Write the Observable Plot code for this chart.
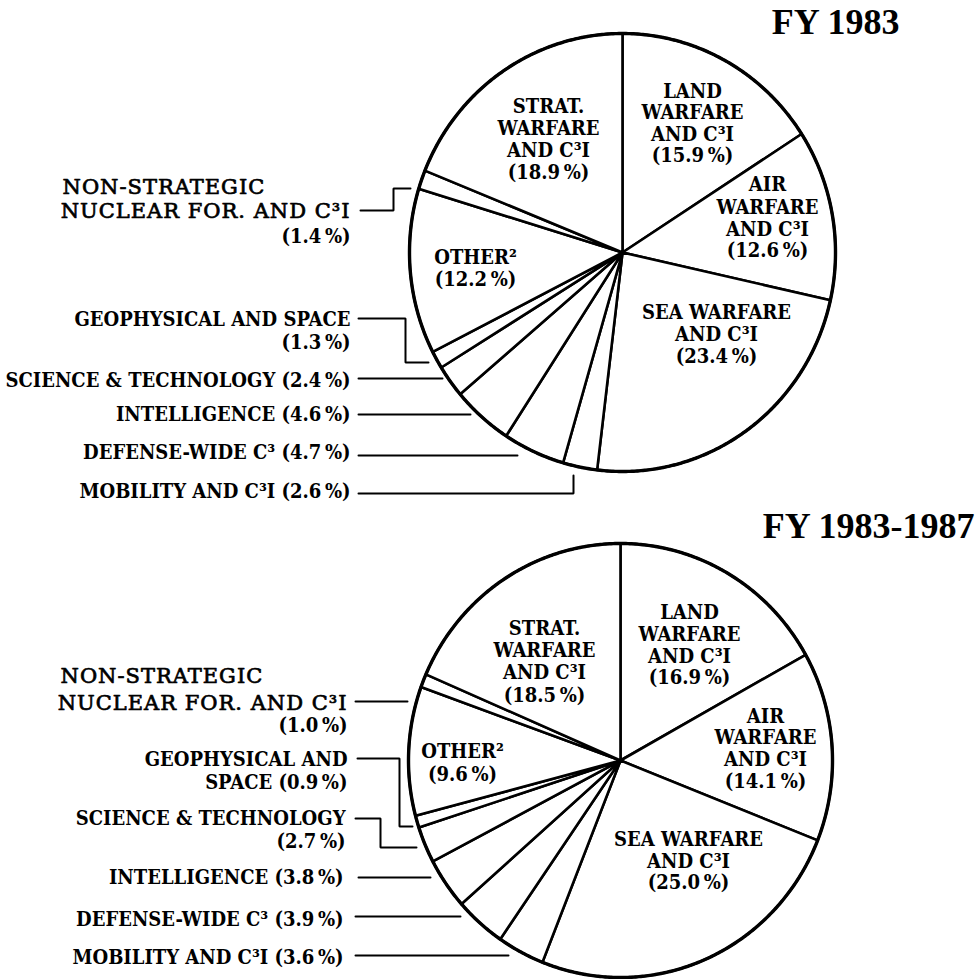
<!DOCTYPE html>
<html>
<head>
<meta charset="utf-8">
<script src="https://cdn.jsdelivr.net/npm/d3@7"></script>
<script src="https://cdn.jsdelivr.net/npm/@observablehq/plot@0.6"></script>
<style>
  html, body { margin: 0; padding: 0; background: #fff; }
  #chart svg { display: block; }
  g[font-family="DejaVu Serif"] { letter-spacing: 1px; }
</style>
</head>
<body>
<div id="chart"></div>
<script>
// ---------------- data ----------------
const categories = [
  "LAND WARFARE AND C³I", "AIR WARFARE AND C³I", "SEA WARFARE AND C³I",
  "MOBILITY AND C³I", "DEFENSE-WIDE C³", "INTELLIGENCE", "SCIENCE & TECHNOLOGY",
  "GEOPHYSICAL AND SPACE", "OTHER²", "NON-STRATEGIC NUCLEAR FOR. AND C³I",
  "STRAT. WARFARE AND C³I"
];
const share1983 = [15.9, 12.6, 23.4, 2.6, 4.7, 4.6, 2.4, 1.3, 12.2, 1.4, 18.9];
const share1983to1987 = [16.9, 14.1, 25.0, 3.6, 3.9, 3.8, 2.7, 0.9, 9.6, 1.0, 18.5];
const titles = ["FY 1983", "FY 1983-1987"];

// ---------------- layout ----------------
const W = 977, H = 979;
const pct = v => `(${v.toFixed(1)}\u2009%)`;

const pies = [
  {
    title: titles[0], values: share1983,
    cx: 622, cy: 252, rx: 213, ry: 219,
    titlePos: [899, 33],
    inside: [
      {c: 10, x: 548, ys: [112, 134, 156, 178], lines: ["STRAT.", "WARFARE", "AND C³I", "{v}"]},
      {c: 0, x: 692, ys: [97, 118, 140, 161], lines: ["LAND", "WARFARE", "AND C³I", "{v}"]},
      {c: 1, x: 767, ys: [190, 213, 235, 256], lines: ["AIR", "WARFARE", "AND C³I", "{v}"]},
      {c: 8, x: 475, ys: [263, 285], lines: ["OTHER²", "{v}"]},
      {c: 2, x: 716, ys: [318, 340, 362], lines: ["SEA WARFARE", "AND C³I", "{v}"]}
    ],
    outside: [
      {c: 9, x: 62, y: 193, text: "NON-STRATEGIC", anchor: "start", light: true},
      {c: 9, x: 350, y: 217, text: "NUCLEAR FOR. AND C³I", anchor: "end", light: true},
      {c: 9, x: 350, y: 242, text: "{v}", anchor: "end"},
      {c: 7, x: 350, y: 325, text: "GEOPHYSICAL AND SPACE", anchor: "end"},
      {c: 7, x: 350, y: 348, text: "{v}", anchor: "end"},
      {c: 6, x: 350, y: 386, text: "SCIENCE & TECHNOLOGY {v}", anchor: "end"},
      {c: 5, x: 350, y: 420, text: "INTELLIGENCE {v}", anchor: "end"},
      {c: 4, x: 350, y: 458, text: "DEFENSE-WIDE C³ {v}", anchor: "end"},
      {c: 3, x: 350, y: 497, text: "MOBILITY AND C³I {v}", anchor: "end"}
    ],
    leaders: [
      {c: 9, pts: [[360, 210], [393, 210], [393, 188], [410, 188]]},
      {c: 7, pts: [[358, 318], [405, 318], [405, 362], [428, 362]]},
      {c: 6, pts: [[358, 378], [442, 378]]},
      {c: 5, pts: [[358, 414], [470, 414]]},
      {c: 4, pts: [[358, 455], [517, 455]]},
      {c: 3, pts: [[358, 493], [573, 493], [573, 475]]}
    ]
  },
  {
    title: titles[1], values: share1983to1987,
    cx: 620, cy: 760, rx: 212, ry: 217,
    titlePos: [974, 537],
    inside: [
      {c: 10, x: 544, ys: [634, 656, 678, 701], lines: ["STRAT.", "WARFARE", "AND C³I", "{v}"]},
      {c: 0, x: 689, ys: [618, 640, 662, 683], lines: ["LAND", "WARFARE", "AND C³I", "{v}"]},
      {c: 1, x: 765, ys: [722, 743, 765, 787], lines: ["AIR", "WARFARE", "AND C³I", "{v}"]},
      {c: 8, x: 462, ys: [757, 780], lines: ["OTHER²", "{v}"]},
      {c: 2, x: 688, ys: [845, 867, 888], lines: ["SEA WARFARE", "AND C³I", "{v}"]}
    ],
    outside: [
      {c: 9, x: 60, y: 682, text: "NON-STRATEGIC", anchor: "start", light: true},
      {c: 9, x: 347, y: 709, text: "NUCLEAR FOR. AND C³I", anchor: "end", light: true},
      {c: 9, x: 347, y: 731, text: "{v}", anchor: "end"},
      {c: 7, x: 347, y: 765, text: "GEOPHYSICAL AND", anchor: "end"},
      {c: 7, x: 347, y: 788, text: "SPACE {v}", anchor: "end"},
      {c: 6, x: 345, y: 824, text: "SCIENCE & TECHNOLOGY", anchor: "end"},
      {c: 6, x: 345, y: 847, text: "{v}", anchor: "end"},
      {c: 5, x: 343, y: 883, text: "INTELLIGENCE {v}", anchor: "end"},
      {c: 4, x: 343, y: 925, text: "DEFENSE-WIDE C³ {v}", anchor: "end"},
      {c: 3, x: 343, y: 963, text: "MOBILITY AND C³I {v}", anchor: "end"}
    ],
    leaders: [
      {c: 9, pts: [[355, 701], [407, 701]]},
      {c: 7, pts: [[357, 758], [399, 758], [399, 826], [412, 826]]},
      {c: 6, pts: [[355, 818], [380, 818], [380, 847], [416, 847]]},
      {c: 5, pts: [[358, 877], [430, 877]]},
      {c: 4, pts: [[355, 916], [460, 916]]},
      {c: 3, pts: [[355, 955], [508, 955]]}
    ]
  }
];

// ---------------- derive mark tables ----------------
const slices = [], outlines = [], leaders = [], insideText = [], outsideText = [], titleText = [];
pies.forEach((p, pi) => {
  const arcs = d3.pie().sort(null).value(d => d)(p.values);
  arcs.forEach((a, i) => {
    const key = `${pi}-${i}`;
    slices.push({key, x: p.cx, y: p.cy, cat: categories[i]});
    const n = Math.max(2, Math.ceil((a.endAngle - a.startAngle) / (Math.PI / 360)));
    for (let k = 0; k <= n; k++) {
      const t = a.startAngle + (a.endAngle - a.startAngle) * k / n;
      slices.push({key, x: p.cx + p.rx * Math.sin(t), y: p.cy - p.ry * Math.cos(t), cat: categories[i]});
    }
  });
  for (let k = 0; k < 720; k++) {
    const t = 2 * Math.PI * k / 720;
    outlines.push({key: pi, x: p.cx + p.rx * Math.sin(t), y: p.cy - p.ry * Math.cos(t)});
  }
  p.inside.forEach(l => l.lines.forEach((s, j) =>
    insideText.push({x: l.x, y: l.ys[j], text: s.replace("{v}", pct(p.values[l.c]))})));
  p.outside.forEach(l =>
    outsideText.push({x: l.x, y: l.y, anchor: l.anchor, light: !!l.light,
                      text: l.text.replace("{v}", pct(p.values[l.c]))}));
  p.leaders.forEach((l, li) => l.pts.forEach(([x, y]) =>
    leaders.push({key: `${pi}-${li}`, x, y})));
  titleText.push({x: p.titlePos[0], y: p.titlePos[1], text: p.title});
});

const boldFont = "'DejaVu Serif Condensed', 'DejaVu Serif', serif";

const chart = Plot.plot({
  width: W, height: H,
  margin: 0,
  x: {domain: [0, W], range: [0, W], axis: null},
  y: {domain: [0, H], range: [0, H], axis: null},
  marks: [
    Plot.line(slices, {x: "x", y: "y", z: "key", curve: "linear-closed",
      fill: "white", stroke: "black", strokeWidth: 2.6, strokeLinejoin: "round"}),
    Plot.line(outlines, {x: "x", y: "y", z: "key", curve: "linear-closed",
      stroke: "black", strokeWidth: 3.4}),
    Plot.line(leaders, {x: "x", y: "y", z: "key", stroke: "black", strokeWidth: 2,
      strokeLinejoin: "miter"}),
    Plot.text(insideText, {x: "x", y: "y", text: "text", textAnchor: "middle", lineAnchor: "bottom",
      fontFamily: boldFont, fontWeight: "bold", fontSize: 20, fill: "black"}),
    Plot.text(outsideText.filter(d => !d.light), {x: "x", y: "y", text: "text", textAnchor: "end",
      lineAnchor: "bottom", fontFamily: boldFont, fontWeight: "bold", fontSize: 20, fill: "black"}),
    Plot.text(outsideText.filter(d => d.light && d.anchor === "start"), {x: "x", y: "y", text: "text",
      textAnchor: "start", lineAnchor: "bottom", fontFamily: "DejaVu Serif", fontSize: 21,
      fill: "black", stroke: "black", strokeWidth: 0.7}),
    Plot.text(outsideText.filter(d => d.light && d.anchor === "end"), {x: "x", y: "y", text: "text",
      textAnchor: "end", lineAnchor: "bottom", fontFamily: "DejaVu Serif", fontSize: 21,
      fill: "black", stroke: "black", strokeWidth: 0.7}),
    Plot.text(titleText, {x: "x", y: "y", text: "text", textAnchor: "end", lineAnchor: "bottom",
      fontFamily: "'Liberation Serif', serif", fontWeight: "bold", fontSize: 36, fill: "black"})
  ]
});
document.getElementById("chart").appendChild(chart);
</script>
</body>
</html>
